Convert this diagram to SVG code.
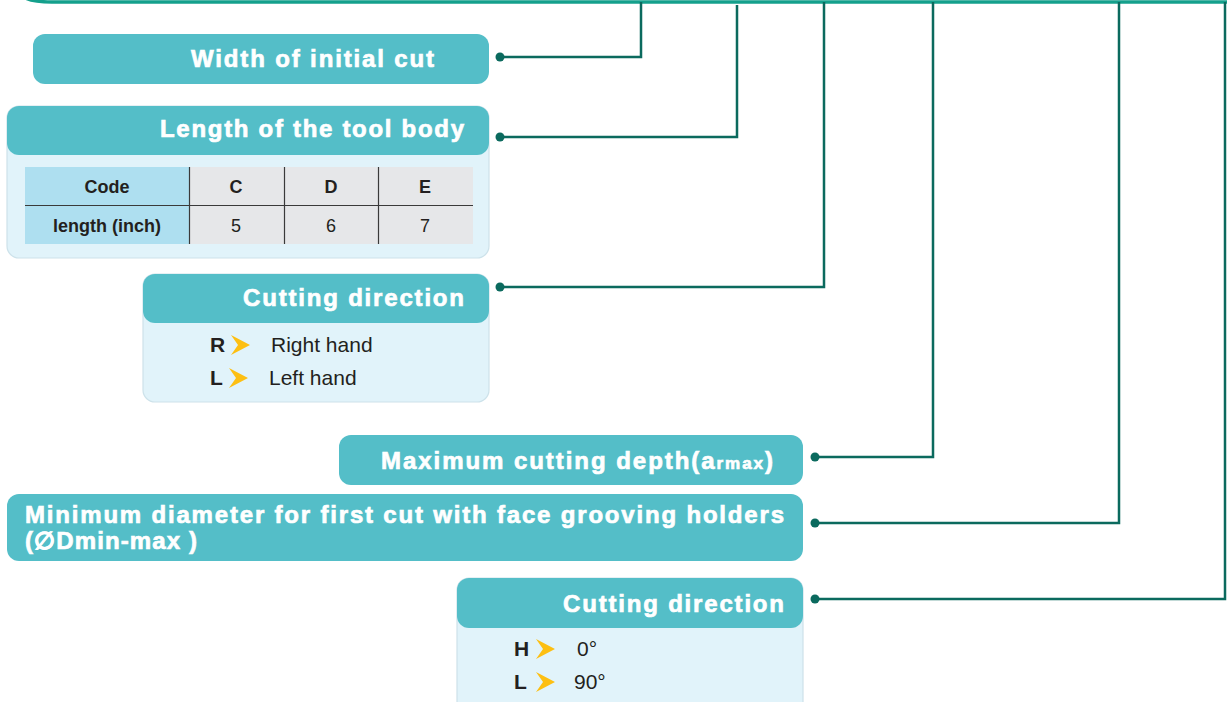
<svg xmlns="http://www.w3.org/2000/svg" width="1227" height="702" viewBox="0 0 1227 702">
<style>
.hdr{fill:#54bec8}
.body{fill:#e1f3fa;stroke:#cde2ea;stroke-width:1.2}
.ht{font-family:"Liberation Sans",Arial,sans-serif;font-weight:bold;font-size:24px;fill:#ffffff;stroke:#ffffff;stroke-width:0.7}
.bt{font-family:"Liberation Sans",Arial,sans-serif;font-size:21px;fill:#231f20}
.bb{font-family:"Liberation Sans",Arial,sans-serif;font-size:21px;font-weight:bold;fill:#231f20}
.tt{font-family:"Liberation Sans",Arial,sans-serif;font-size:18px;fill:#231f20;text-anchor:middle}
.tb{font-family:"Liberation Sans",Arial,sans-serif;font-size:18px;font-weight:bold;fill:#231f20;text-anchor:middle}
.con{fill:none;stroke:#0b6a5e;stroke-width:2.5}
.dot{fill:#0b6a5e}
.chev{fill:#fdbf12}
</style>
<defs>
<polygon id="chev" points="0,0 19,10 0,20 7,10"/>
</defs>
<rect width="1227" height="702" fill="#ffffff"/>

<path d="M22,-4 Q30,2 52,2 L1227,2" fill="none" stroke="#14a08c" stroke-width="3.5"/>

<g id="connectors">
<path class="con" d="M500,57 H641 V2"/>
<path class="con" d="M500,137 H737 V5"/>
<path class="con" d="M500,287 H824 V2"/>
<path class="con" d="M815,457 H933 V2"/>
<path class="con" d="M815,523 H1119 V2"/>
<path class="con" d="M815,599 H1225 V2"/>
<circle class="dot" cx="500" cy="57" r="4.5"/>
<circle class="dot" cx="500" cy="137" r="4.5"/>
<circle class="dot" cx="500" cy="287" r="4.5"/>
<circle class="dot" cx="815" cy="457" r="4.5"/>
<circle class="dot" cx="815" cy="523" r="4.5"/>
<circle class="dot" cx="815" cy="599" r="4.5"/>
</g>

<g id="width-initial-cut">
<rect class="hdr" x="33" y="34" width="456" height="50" rx="12"/>
<text class="ht" x="191" y="67" textLength="243" lengthAdjust="spacing">Width of initial cut</text>
</g>

<g id="length-tool-body">
<rect class="body" x="7" y="106" width="482" height="152" rx="12"/>
<rect class="hdr" x="7" y="106" width="482" height="49" rx="12"/>
<text class="ht" x="160" y="137" textLength="304" lengthAdjust="spacing">Length of the tool body</text>
<rect x="25" y="167" width="164" height="77" fill="#aedff0"/>
<rect x="189" y="167" width="284" height="77" fill="#e6e7e9"/>
<line x1="25" y1="205.5" x2="473" y2="205.5" stroke="#3a3a3a" stroke-width="1.2"/>
<line x1="189.5" y1="167" x2="189.5" y2="244" stroke="#3a3a3a" stroke-width="1.2"/>
<line x1="284.5" y1="167" x2="284.5" y2="244" stroke="#3a3a3a" stroke-width="1.2"/>
<line x1="378.5" y1="167" x2="378.5" y2="244" stroke="#3a3a3a" stroke-width="1.2"/>
<text class="tb" x="107" y="193">Code</text>
<text class="tb" x="236" y="193">C</text>
<text class="tb" x="331" y="193">D</text>
<text class="tb" x="425" y="193">E</text>
<text class="tb" x="107" y="232">length (inch)</text>
<text class="tt" x="236" y="232">5</text>
<text class="tt" x="331" y="232">6</text>
<text class="tt" x="425" y="232">7</text>
</g>

<g id="cutting-direction-1">
<rect class="body" x="143" y="274" width="346" height="128" rx="12"/>
<rect class="hdr" x="143" y="274" width="346" height="49" rx="12"/>
<text class="ht" x="243" y="306" textLength="221" lengthAdjust="spacing">Cutting direction</text>
<text class="bb" x="210" y="352">R</text>
<use href="#chev" class="chev" x="231" y="335"/>
<text class="bt" x="271" y="352">Right hand</text>
<text class="bb" x="210" y="385">L</text>
<use href="#chev" class="chev" x="229" y="368"/>
<text class="bt" x="269" y="385">Left hand</text>
</g>

<g id="max-cutting-depth">
<rect class="hdr" x="339" y="435" width="464" height="50" rx="12"/>
<text class="ht" x="381" y="469" textLength="392" lengthAdjust="spacing">Maximum cutting depth(a<tspan font-size="17">rmax</tspan>)</text>
</g>

<g id="min-diameter">
<rect class="hdr" x="7" y="494" width="796" height="67" rx="12"/>
<text class="ht" x="25" y="523" textLength="759" lengthAdjust="spacing">Minimum diameter for first cut with face grooving holders</text>
<text class="ht" x="25" y="549" textLength="172" lengthAdjust="spacing">(∅Dmin-max )</text>
</g>

<g id="cutting-direction-2">
<rect class="body" x="457" y="578" width="346" height="140" rx="12"/>
<rect class="hdr" x="457" y="578" width="346" height="50" rx="12"/>
<text class="ht" x="563" y="612" textLength="221" lengthAdjust="spacing">Cutting direction</text>
<text class="bb" x="514" y="656">H</text>
<use href="#chev" class="chev" x="536" y="639"/>
<text class="bt" x="577" y="656">0°</text>
<text class="bb" x="514" y="689">L</text>
<use href="#chev" class="chev" x="536" y="672"/>
<text class="bt" x="574" y="689">90°</text>
</g>
</svg>
